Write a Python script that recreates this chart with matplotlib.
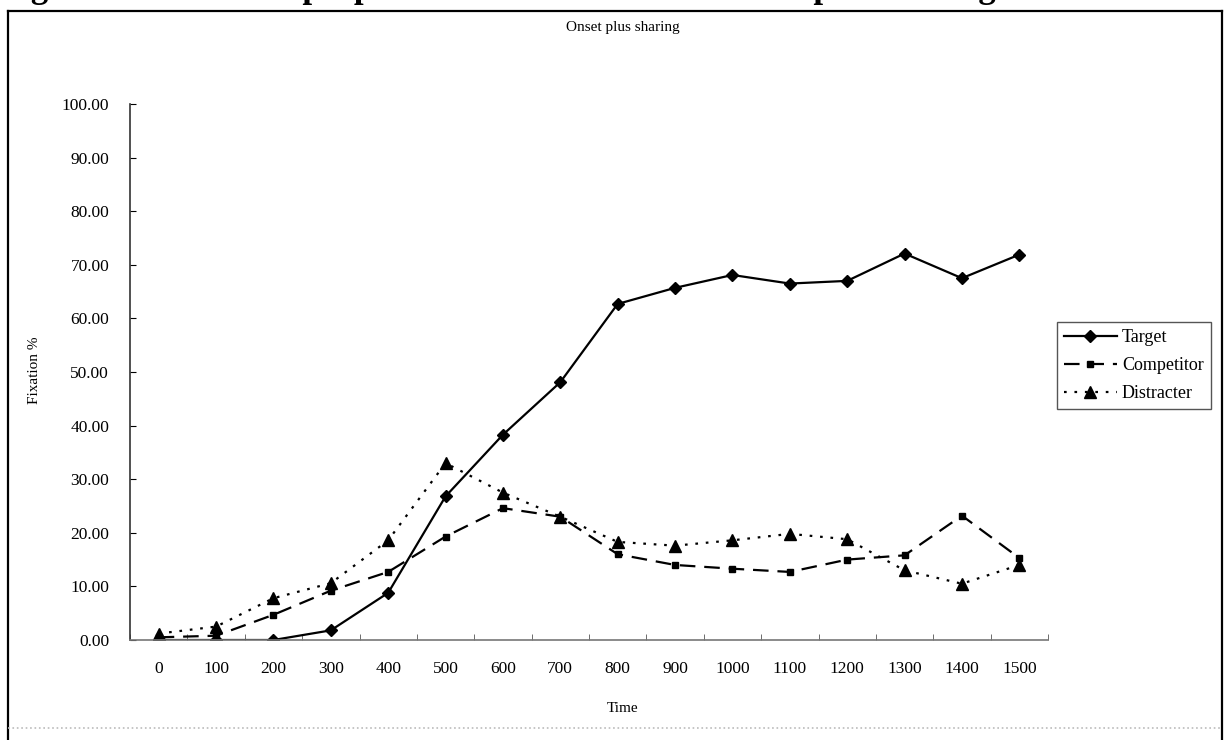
import matplotlib
matplotlib.use("Agg")
import matplotlib.pyplot as plt
from matplotlib.lines import Line2D
import numpy as np

times = [0, 100, 200, 300, 400, 500, 600, 700, 800, 900, 1000, 1100, 1200, 1300, 1400, 1500]
target = [0.0, 0.0, 0.0, 1.8, 8.8, 26.8, 38.3, 48.1, 62.7, 65.7, 68.1, 66.5, 67.0, 72.1, 67.5, 71.9]
competitor = [0.5, 0.8, 4.7, 9.2, 12.7, 19.3, 24.6, 23.0, 16.0, 14.0, 13.3, 12.7, 15.0, 15.8, 23.2, 15.3]
distracter = [1.2, 2.5, 7.8, 10.6, 18.6, 33.0, 27.5, 23.0, 18.3, 17.6, 18.6, 19.8, 18.8, 13.0, 10.5, 14.0]
y_ticks = [0, 10, 20, 30, 40, 50, 60, 70, 80, 90, 100]

W, H = 1227, 740


def build_graph():
    plt.rcParams["font.family"] = ["Liberation Serif", "DejaVu Serif"]
    fig = plt.figure(figsize=(W / 100, H / 100), dpi=100)

    # caption of the figure, cut by the top edge
    fig.text(0.0, 1 + 3 / H, "Figure 7.7: Fixation proportion over time for the onset plus sharing condition",
             ha="left", va="baseline", fontsize=25, fontweight="bold")

    # chart frame
    fig.add_artist(Line2D([8 / W, 8 / W], [1 - 11 / H, 0], color="black", lw=1.6))
    fig.add_artist(Line2D([8 / W, 1222 / W], [1 - 11 / H, 1 - 11 / H], color="black", lw=1.6))
    fig.add_artist(Line2D([1222 / W, 1222 / W], [1 - 11 / H, 0], color="black", lw=1.6))
    fig.add_artist(Line2D([8 / W, 1222 / W], [1 - 728 / H, 1 - 728 / H], color="#bbbbbb", lw=1.2, ls=":"))

    ax = fig.add_axes([130 / W, 1 - 640 / H, (1048 - 130) / W, (640 - 104) / H])
    x = np.arange(len(times))

    ax.plot(x, target, color="black", lw=1.6, ls="-", marker="D", ms=6.5, label="Target")
    ax.plot(x, competitor, color="black", lw=1.6, ls=(0, (7, 4)), marker="s", ms=5, label="Competitor")
    ax.plot(x, distracter, color="black", lw=1.6, ls=(0, (1.2, 3.5)), marker="^", ms=8, label="Distracter")

    ax.set_xlim(-0.5, len(times) - 0.5)
    ax.set_ylim(0, 100)
    ax.set_xticks(x)
    ax.set_xticklabels([str(t) for t in times])
    ax.set_xticks(np.arange(-0.5, len(times)), minor=True)
    ax.tick_params(axis="x", which="major", length=0, pad=15, labelsize=12.5)
    ax.tick_params(axis="x", which="minor", length=4, direction="in", color="#555555")
    ax.set_yticks(y_ticks)
    ax.set_yticklabels(["%.2f" % v for v in y_ticks])
    ax.tick_params(axis="y", length=4, direction="in", pad=15, labelsize=12.5)

    for side in ("top", "right"):
        ax.spines[side].set_visible(False)
    ax.spines["left"].set_color("#333333")
    ax.spines["bottom"].set_color("#777777")
    ax.spines["left"].set_linewidth(1.2)
    ax.spines["bottom"].set_linewidth(1.2)

    fig.text(623 / W, 1 - 28 / H, "Onset plus sharing", ha="center", va="center", fontsize=11)
    fig.text(623 / W, 1 - 708 / H, "Time", ha="center", va="center", fontsize=11)
    fig.text(35 / W, 1 - 370 / H, "Fixation %", ha="center", va="center", rotation=90, fontsize=11)

    leg = fig.legend(loc="upper left", bbox_to_anchor=(1057 / W, 1 - 322 / H), bbox_transform=fig.transFigure,
                     fontsize=13, frameon=True, fancybox=False, framealpha=1, edgecolor="#555555",
                     handlelength=2.9, handletextpad=0.3, borderpad=0.4, labelspacing=0.6, borderaxespad=0)
    leg.get_frame().set_linewidth(1.0)

    fig.savefig("out.png", dpi=100)


def main():
    build_graph()


if __name__ == "__main__":
    main()
